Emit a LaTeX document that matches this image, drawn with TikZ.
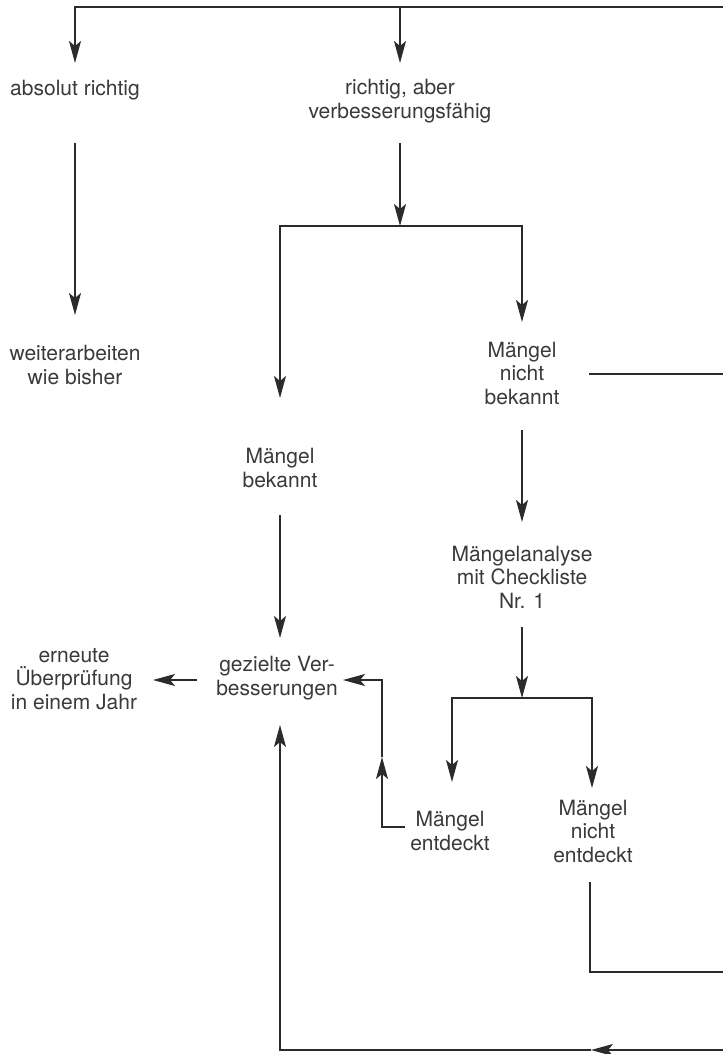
\documentclass[tikz,border=0pt]{standalone}
\usepackage{fontspec}
\setmainfont{TeX Gyre Heros}
\usetikzlibrary{arrows.meta}
\definecolor{ink}{HTML}{2B2B2B}
\definecolor{txt}{HTML}{3A3A3A}
\begin{document}
\begin{tikzpicture}[x=1pt,y=-1pt,
  lbl/.style={align=center, text=txt, font=\fontsize{21}{23.5}\selectfont, inner sep=0pt},
  ln/.style={draw=ink, line width=1.4pt},
  arr/.style={ln, -{Stealth[length=22pt,width=12pt,inset=5pt]}}]
\useasboundingbox[fill=white] (0,0) rectangle (723,1054);
% text nodes
\node[lbl] (abs)  at (75,90)   {absolut richtig};
\node[lbl] (rich) at (400,101) {richtig, aber\\verbesserungsfähig};
\node[lbl] (weit) at (75,365)  {weiterarbeiten\\wie bisher};
\node[lbl] (mb)   at (280,468) {Mängel\\bekannt};
\node[lbl] (mnb)  at (522,373) {Mängel\\nicht\\bekannt};
\node[lbl] (ma)   at (522,577) {Mängelanalyse\\mit Checkliste\\Nr. 1};
\node[lbl] (gv)   at (277,678) {gezielte Ver-\\besserungen};
\node[lbl] (eu)   at (74,679)  {erneute\\Überprüfung\\in einem Jahr};
\node[lbl] (me)   at (450,831) {Mängel\\entdeckt};
\node[lbl] (mne)  at (593,831) {Mängel\\nicht\\entdeckt};
% connector points
\coordinate (tR) at (723,7);   \coordinate (tL) at (75,7);   \coordinate (tM) at (400,7);
\coordinate (absIn) at (75,63);  \coordinate (richIn) at (400,63);
\coordinate (absOut) at (75,143); \coordinate (weitIn) at (75,315);
\coordinate (richOut) at (400,143); \coordinate (br1) at (400,226);
\coordinate (br1L) at (280,226); \coordinate (br1R) at (522,226);
\coordinate (mbIn) at (280,398); \coordinate (mnbIn) at (522,322);
\coordinate (mnbR) at (589,374); \coordinate (rA) at (723,374);
\coordinate (mnbOut) at (522,430); \coordinate (maIn) at (522,522);
\coordinate (maOut) at (522,627); \coordinate (br2) at (522,698);
\coordinate (br2L) at (452,698); \coordinate (br2R) at (592,698);
\coordinate (meIn) at (452,782); \coordinate (mneIn) at (592,788);
\coordinate (mneOut) at (590,882); \coordinate (rB1) at (590,972); \coordinate (rB) at (723,972);
\coordinate (mbOut) at (280,515); \coordinate (gvIn) at (280,638);
\coordinate (gvL) at (197,680); \coordinate (euIn) at (153,680);
\coordinate (meL) at (405,827); \coordinate (meC) at (382,827); \coordinate (mUp) at (382,757);
\coordinate (gvC) at (382,680); \coordinate (gvR) at (343,680);
\coordinate (bR) at (723,1050); \coordinate (bM) at (591,1050); \coordinate (bL) at (280,1050);
\coordinate (gvB) at (280,725);
% connectors
\draw[arr] (tR) -- (tL) -- (absIn);
\draw[arr] (tM) -- (richIn);
\draw[arr] (absOut) -- (weitIn);
\draw[arr] (richOut) -- (br1);
\draw[arr] (br1) -- (br1L) -- (mbIn);
\draw[arr] (br1) -- (br1R) -- (mnbIn);
\draw[ln] (mnbR) -- (rA);
\draw[arr] (mnbOut) -- (maIn);
\draw[arr] (maOut) -- (br2);
\draw[arr] (br2) -- (br2L) -- (meIn);
\draw[arr] (br2) -- (br2R) -- (mneIn);
\draw[ln] (mneOut) -- (rB1) -- (rB);
\draw[arr] (mbOut) -- (gvIn);
\draw[arr] (gvL) -- (euIn);
\draw[arr] (meL) -- (meC) -- (mUp);
\draw[arr] (mUp) -- (gvC) -- (gvR);
\draw[arr] (bR) -- (bM);
\draw[arr] (bM) -- (bL) -- (gvB);
\end{tikzpicture}
\end{document}
